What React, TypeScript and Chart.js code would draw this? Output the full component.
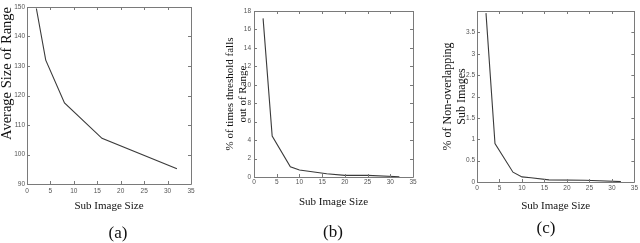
import React, { useEffect, useRef } from 'react';
import { Chart, registerables } from 'chart.js';

Chart.register(...registerables);

// ---- data ----
const sizesA = [2, 4, 8, 16, 32];
const rangeA = [149.5, 132, 117.5, 105.5, 95.2];

const sizesB = [2, 4, 8, 10, 16, 20, 25, 32];
const pctB = [17.2, 4.45, 1.1, 0.75, 0.35, 0.18, 0.18, 0.03];

const sizesC = [2, 4, 8, 10, 12, 16, 24, 32];
const pctC = [3.95, 0.9, 0.23, 0.12, 0.1, 0.05, 0.04, 0.01];

const xTitle = 'Sub Image Size';
const yTitleA = 'Average Size of Range';
const yTitleB = ['% of times threshold falls', 'out of Range'];
const yTitleC = ['% of Non-overlapping', 'Sub Images'];
const captions = ['(a)', '(b)', '(c)'];

const xRange = { min: 0, max: 35, step: 5 };
const yRangeA = { min: 90, max: 150, step: 10 };
const yRangeB = { min: 0, max: 18, step: 2 };
const yRangeC = { min: 0, max: 4, step: 0.5 };

// ---- MATLAB-like box with inward ticks ----
const boxPlugin = {
  id: 'matlabBox',
  afterDatasetsDraw(chart: any) {
    const { ctx, chartArea } = chart;
    const { left, right, top, bottom } = chartArea;
    const xs = chart.scales.x;
    const ys = chart.scales.y;
    const len = 3;
    ctx.save();
    ctx.strokeStyle = '#7a7a7a';
    ctx.lineWidth = 1;
    ctx.beginPath();
    ctx.rect(Math.round(left) + 0.5, Math.round(top) + 0.5, Math.round(right - left), Math.round(bottom - top));
    xs.ticks.forEach((t: any) => {
      const px = Math.round(xs.getPixelForValue(t.value)) + 0.5;
      ctx.moveTo(px, bottom);
      ctx.lineTo(px, bottom - len);
      ctx.moveTo(px, top);
      ctx.lineTo(px, top + len);
    });
    ys.ticks.forEach((t: any) => {
      const py = Math.round(ys.getPixelForValue(t.value)) + 0.5;
      ctx.moveTo(left, py);
      ctx.lineTo(left + len, py);
      ctx.moveTo(right, py);
      ctx.lineTo(right - len, py);
    });
    ctx.stroke();
    ctx.restore();
  },
};

type Panel = {
  xs: number[];
  ys: number[];
  yRange: { min: number; max: number; step: number };
  yTitle: string | string[];
  canvasLeft: number;
  canvasWidth: number;
  plotLeft: number;
  plotRight: number;
  plotTop: number;
  plotBottom: number;
  yTitleFont: number;
  yTitleLine: number;
  yTitlePad: number;
  yTitleAlign: 'start' | 'center' | 'end';
  yTickPad: number;
  xTickPad: number;
  xTitlePad: number;
  hideTop?: boolean;
  caption: string;
  capX: number;
  capY: number;
};

const H = 243;

const panels: Panel[] = [
  {
    xs: sizesA, ys: rangeA, yRange: yRangeA, yTitle: yTitleA,
    canvasLeft: 0, canvasWidth: 200, plotLeft: 27, plotRight: 191, plotTop: 7, plotBottom: 184,
    yTitleFont: 14.5, yTitleLine: 1, yTitlePad: 0, yTitleAlign: 'end', yTickPad: 2, xTickPad: 3.5, xTitlePad: 30.4,
    caption: captions[0], capX: 118, capY: 233,
  },
  {
    xs: sizesB, ys: pctB, yRange: yRangeB, yTitle: yTitleB,
    canvasLeft: 215, canvasWidth: 205, plotLeft: 254, plotRight: 413, plotTop: 11, plotBottom: 177,
    yTitleFont: 11, yTitleLine: 13 / 11, yTitlePad: 8.5, yTitleAlign: 'center', yTickPad: 3, xTickPad: 1.5, xTitlePad: 34.4,
    caption: captions[1], capX: 333, capY: 232,
  },
  {
    xs: sizesC, ys: pctC, yRange: yRangeC, yTitle: yTitleC,
    canvasLeft: 430, canvasWidth: 210, plotLeft: 477, plotRight: 635, plotTop: 11, plotBottom: 182,
    yTitleFont: 12, yTitleLine: 14 / 12, yTitlePad: 11, yTitleAlign: 'center', yTickPad: 2, xTickPad: 2, xTitlePad: 30.7,
    hideTop: true,
    caption: captions[2], capX: 546, capY: 228,
  },
];

const tickFont = { family: "'Liberation Sans', Arial, sans-serif", size: 6.5 };
const serif = "'Liberation Serif', 'Times New Roman', serif";

function PanelChart({ p }: { p: Panel }) {
  const ref = useRef<HTMLCanvasElement>(null);
  useEffect(() => {
    if (!ref.current) return;
    const yW = p.plotLeft - p.canvasLeft;
    const xH = H - p.plotBottom;
    const chart = new Chart(ref.current, {
      type: 'line',
      data: {
        datasets: [
          {
            data: p.xs.map((x, i) => ({ x, y: p.ys[i] })),
            borderColor: '#3a3a3a',
            borderWidth: 1.1,
            pointRadius: 0,
            tension: 0,
            fill: false,
          },
        ],
      },
      options: {
        animation: false,
        responsive: false,
        devicePixelRatio: 1,
        layout: {
          padding: { left: 0, right: p.canvasLeft + p.canvasWidth - p.plotRight, top: p.plotTop, bottom: 0 },
        },
        plugins: { legend: { display: false }, tooltip: { enabled: false }, title: { display: false } },
        scales: {
          x: {
            type: 'linear',
            min: xRange.min,
            max: xRange.max,
            grid: { display: false, drawTicks: false },
            border: { display: false },
            ticks: {
              stepSize: xRange.step,
              color: '#555',
              font: tickFont,
              padding: p.xTickPad,
              maxRotation: 0,
              autoSkip: false,
            },
            title: {
              display: true,
              text: xTitle,
              color: '#111',
              font: { family: serif, size: 11, lineHeight: 1.2 },
              padding: { top: 0, bottom: p.xTitlePad },
            },
            afterFit: (s: any) => {
              s.height = xH;
            },
          },
          y: {
            type: 'linear',
            min: p.yRange.min,
            max: p.yRange.max,
            grid: { display: false, drawTicks: false },
            border: { display: false },
            ticks: {
              stepSize: p.yRange.step,
              color: '#555',
              font: tickFont,
              padding: p.yTickPad,
              autoSkip: false,
              callback: (v: any) => (p.hideTop && v === p.yRange.max ? '' : String(v)),
            },
            title: {
              display: true,
              text: p.yTitle as any,
              align: p.yTitleAlign,
              color: '#111',
              font: { family: serif, size: p.yTitleFont, lineHeight: p.yTitleLine },
              padding: { top: p.yTitlePad, bottom: 0 },
            },
            afterFit: (s: any) => {
              s.width = yW;
            },
          },
        },
      } as any,
      plugins: [boxPlugin],
    });
    return () => chart.destroy();
  }, [p]);
  return (
    <>
      <canvas
        ref={ref}
        width={p.canvasWidth}
        height={H}
        style={{ position: 'absolute', left: p.canvasLeft, top: 0, width: p.canvasWidth, height: H }}
      />
      <div
        style={{
          position: 'absolute',
          left: p.capX - 30,
          width: 60,
          top: p.capY - 10,
          height: 20,
          lineHeight: '20px',
          textAlign: 'center',
          fontFamily: serif,
          fontSize: 17,
          color: '#111',
        }}
      >
        {p.caption}
      </div>
    </>
  );
}

export default function App() {
  return (
    <div style={{ position: 'absolute', left: 0, top: 0, width: 640, height: H, background: '#fff', overflow: 'hidden' }}>
      {panels.map((p, i) => (
        <PanelChart key={i} p={p} />
      ))}
    </div>
  );
}
